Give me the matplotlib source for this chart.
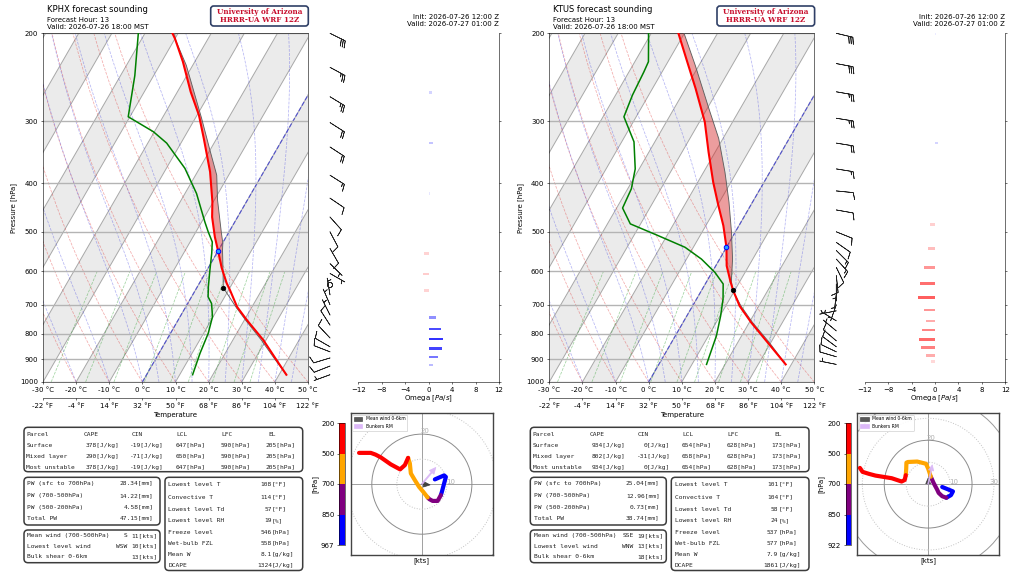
import numpy as np
import matplotlib
matplotlib.use("Agg")
import matplotlib.pyplot as plt
from matplotlib.transforms import Affine2D
from matplotlib.patches import FancyBboxPatch, Circle, Patch
from matplotlib.colors import ListedColormap, BoundaryNorm, to_rgba
from matplotlib.ticker import FixedLocator, NullLocator, FuncFormatter, NullFormatter
from matplotlib.colorbar import ColorbarBase

# ---------------- shared axis values ----------------
p_ticks = [200, 300, 400, 500, 600, 700, 800, 900, 1000]
t_ticks = [-30, -20, -10, 0, 10, 20, 30, 40, 50]
omega_ticks = [-12, -8, -4, 0, 4, 8, 12]
dry_t0 = [-30, -20, -10, 0, 10, 20, 30, 40, 50]
moist_t0 = [-30, -20, -10, 0, 5, 10, 15, 20, 25, 30, 35, 40, 45, 50]
mix_ratios = [0.0004, 0.001, 0.002, 0.004, 0.007, 0.01, 0.016, 0.024, 0.032]
hodo_tops = [850, 700, 500, 200]
hodo_colors = ['blue', 'purple', 'orange', 'red']
parcel_names = ["Surface", "Mixed layer", "Most unstable"]
misc_labels = ["Lowest level T", "Convective T", "Lowest level Td", "Lowest level RH",
               "Freeze level", "Wet-bulb FZL", "Mean W", "DCAPE"]
misc_units = ["[°F]", "[°F]", "[°F]", "[%]", "[hPa]", "[hPa]", "[g/kg]", "[J/kg]"]
pw_labels = ["PW (sfc to 700hPa)", "PW (700-500hPa)", "PW (500-200hPa)", "Total PW"]
wind_labels = ["Mean wind (700-500hPa)", "Lowest level wind", "Bulk shear 0-6km"]
init_text = "Init: 2026-07-26 12:00 Z"
valid_z_text = "Valid: 2026-07-27 01:00 Z"
fhour_text = "Forecast Hour: 13"
valid_local_text = "Valid: 2026-07-26 18:00 MST"

# ---------------- KPHX ----------------
phx_p_T = [200, 205, 228, 262, 292, 325, 379, 435, 467, 512, 546, 590, 634, 654, 707, 751, 824, 904, 967]
phx_T = [-51.7, -50.0, -43.6, -36.0, -29.4, -23.9, -16.2, -10.3, -7.7, -3.4, 0.0, 4.0, 8.25, 10.4, 15.5, 20.7, 29.2, 36.7, 42.2]
phx_p_Td = [200, 243, 294, 315, 332, 373, 419, 478, 500, 524, 552, 597, 644, 675, 696, 740, 799, 876, 967]
phx_Td = [-62.0, -55.7, -50.5, -40.3, -34.3, -24.4, -16.5, -9.0, -6.3, -3.3, -1.5, 0.9, 3.3, 5.0, 7.2, 9.8, 11.4, 12.4, 13.9]
phx_p_par = [200, 205, 232, 296, 340, 385, 432, 504, 527, 544, 587, 630, 647, 706, 751, 824, 900, 967]
phx_T_par = [-51.0, -50.0, -41.9, -28.1, -20.5, -13.6, -9.0, -2.0, 0.1, 1.2, 4.2, 6.95, 8.0, 15.0, 20.3, 28.6, 36.0, 42.2]
phx_lcl = (647, 8.0)
phx_frz = (546, 0.0)
phx_p_wind = [200, 234, 268, 302, 338, 385, 428, 467, 500, 540, 579, 606, 639, 669, 700, 734, 769, 816, 850, 870, 895, 929, 967]
phx_u = [-25.1, -23.0, -20.4, -18.5, -16.4, -12.4, -8.7, -6.8, -5.5, -4.8, -4.4, -2.8, -1.1, 0.5, 2.3, 3.0, 4.3, 6.3, 7.6, 8.0, 9.6, 8.9, 5.2]
phx_v = [12.5, 12.5, 12.5, 11.8, 10.7, 7.9, 5.9, 7.6, 10.5, 8.3, 4.3, 1.6, -1.1, -3.0, -5.3, -6.0, -6.7, -6.7, -4.4, -3.1, 2.9, 3.5, 1.9]
phx_p_omega = [263, 332, 419, 552, 607, 656, 743, 783, 820, 856, 891, 924]
phx_omega = [0.5, 0.7, 0.3, -0.8, -0.9, -0.8, 1.3, 2.1, 2.4, 2.2, 1.6, 0.8]
phx_mean_wind = (3.3, -0.3)
phx_bunkers = (5.6, 6.7)
phx_cape = [378, 290, 378]
phx_cin = [-19, -71, -19]
phx_lcl_p = [647, 650, 647]
phx_lfc_p = [590, 590, 590]
phx_el_p = [205, 205, 205]
phx_pw = [28.34, 14.22, 4.58, 47.15]
phx_wind_dir = ["S", "WSW", ""]
phx_wind_spd = [11, 10, 13]
phx_misc = [108, 114, 57, 19, 546, 558, 8.1, 1324]
phx_sfc = 967

# ---------------- KTUS ----------------
tus_p_T = [200, 228, 258, 301, 346, 398, 443, 486, 537, 585, 628, 656, 704, 760, 834, 922]
tus_T = [-51.8, -44.2, -37.0, -28.4, -22.0, -15.3, -9.7, -4.7, 0.0, 3.3, 7.1, 9.6, 14.2, 20.6, 29.1, 38.3]
tus_p_Td = [200, 228, 239, 266, 294, 330, 374, 410, 448, 482, 509, 537, 567, 603, 636, 682, 737, 808, 922]
tus_Td = [-60.8, -55.9, -55.5, -54.9, -53.7, -46.3, -41.2, -38.9, -38.2, -33.1, -22.6, -12.5, -5.5, 0.9, 5.4, 8.0, 10.2, 12.4, 14.4]
tus_p_par = [200, 232, 283, 325, 380, 436, 501, 567, 628, 654, 704, 760, 833, 922]
tus_T_par = [-50.1, -41.1, -29.5, -21.3, -13.5, -7.1, -1.1, 3.9, 7.4, 9.3, 14.6, 21.0, 29.5, 38.3]
tus_lcl = (654, 9.3)
tus_frz = (537, 0.0)
tus_p_wind = [200, 230, 262, 296, 332, 374, 414, 452, 500, 525, 545, 567, 589, 612, 636, 666, 700, 720, 754, 790, 827, 850, 870, 890, 922]
tus_u = [-31.1, -29.9, -27.0, -24.0, -20.3, -16.6, -12.1, -10.7, -10.2, -10.0, -9.9, -9.2, -5.0, -1.0, 0.0, 0.6, 1.2, 2.5, 4.1, 4.8, 6.4, 8.3, 10.4, 11.3, 6.4]
tus_v = [7.4, 5.6, 4.7, 3.9, 3.3, 2.7, 1.2, 1.9, 4.1, 7.0, 9.8, 10.1, 10.3, 9.3, 7.1, 5.3, 3.4, 0.5, -2.5, -4.0, -5.5, -6.2, -5.0, -3.3, -1.3]
tus_p_omega = [200, 332, 483, 540, 589, 634, 677, 717, 754, 787, 822, 853, 885, 910]
tus_omega = [0.2, 0.5, -0.85, -1.2, -1.9, -2.6, -2.9, -1.9, -1.5, -2.2, -2.7, -2.3, -1.5, -0.7]
tus_mean_wind = (0.0, 2.8)
tus_bunkers = (1.9, 8.8)
tus_cape = [934, 802, 934]
tus_cin = [0, -31, 0]
tus_lcl_p = [654, 658, 654]
tus_lfc_p = [628, 628, 628]
tus_el_p = [173, 173, 173]
tus_pw = [25.04, 12.96, 0.73, 38.74]
tus_wind_dir = ["SSE", "WNW", ""]
tus_wind_spd = [19, 13, 18]
tus_misc = [101, 104, 58, 24, 537, 577, 7.9, 1861]
tus_sfc = 922

# ---------------- figure ----------------
W, H, DPI = 1024, 573, 50
fig = plt.figure(figsize=(W / DPI, H / DPI), dpi=DPI)
fig.patch.set_facecolor('white')


def rect(x0, y0, x1, y1):
    return [x0 / W, 1 - y1 / H, (x1 - x0) / W, (y1 - y0) / H]


def c2f(c):
    return np.asarray(c) * 9.0 / 5.0 + 32.0


def f2c(f):
    return (np.asarray(f) - 32.0) * 5.0 / 9.0


def moist_adiabat(t0c, p):
    Rd, Cp, Lv, eps = 287.04, 1005.7, 2.501e6, 0.622

    def dTdp(T, pp):
        es = 6.112 * np.exp(17.67 * (T - 273.15) / (T - 29.65))
        rs = eps * es / (pp - es)
        return (Rd * T + Lv * rs) / (Cp + Lv * Lv * rs * eps / (Rd * T * T)) / pp

    T = t0c + 273.15
    out = [T]
    for i in range(len(p) - 1):
        p0, p1 = p[i], p[i + 1]
        h = p1 - p0
        k1 = dTdp(T, p0)
        k2 = dTdp(T + h / 2 * k1, p0 + h / 2)
        k3 = dTdp(T + h / 2 * k2, p0 + h / 2)
        k4 = dTdp(T + h * k3, p1)
        T = T + h / 6 * (k1 + 2 * k2 + 2 * k3 + k4)
        out.append(T)
    return np.array(out) - 273.15


ov = fig.add_axes([0, 0, 1, 1], zorder=20)
ov.set_xlim(0, W)
ov.set_ylim(H, 0)
ov.set_axis_off()


def box(x0, y0, x1, y1):
    ov.add_patch(FancyBboxPatch((x0, y0), x1 - x0, y1 - y0,
                                boxstyle="round,pad=0,rounding_size=4",
                                fc='white', ec='#3c3c3c', lw=2.2))


MONO = dict(family='DejaVu Sans Mono', fontsize=9, va='center', color='#222222')


def draw_station(off, station, p_T, T, p_Td, Td, p_par, T_par, lcl, frz, lfc, el, cin_rng,
                 p_w, u, v, p_om, om, sfc, mean_w, bunk,
                 cape, cin, lclp, lfcp, elp, pw, wdir, wspd, misc):
    # ---------------- skew-T ----------------
    ax = fig.add_axes(rect(43 + off, 33.3, 308 + off, 382))
    ax.set_yscale('log')
    ax.set_xlim(-30, 50)
    ax.set_ylim(1000, 200)
    ax.set_autoscale_on(False)
    shear = np.arctan(np.tan(np.radians(30)) * 348.7 / 265.0)
    sk = ax.transScale + ax.transLimits + Affine2D().skew(shear, 0) + ax.transAxes
    pb = np.array([1000.0, 200.0])
    for t0 in range(-100, 60, 20):
        ax.fill([t0, t0 + 10, t0 + 10, t0], [1000, 1000, 200, 200], transform=sk,
                color='#ebebeb', lw=0, zorder=0.3)
    for t0 in range(-100, 60, 10):
        ax.plot([t0, t0], pb, transform=sk, color='#a8a8a8', lw=1.4, zorder=0.6)
    p_bg = np.linspace(1000, 200, 81)
    for t0 in dry_t0:
        th = (t0 + 273.15) * (p_bg / 1000.0) ** 0.2857 - 273.15
        ax.plot(th, p_bg, transform=sk, color='#e03030', alpha=0.4, lw=1.1, ls='--', zorder=0.8)
    for t0 in moist_t0:
        ma = moist_adiabat(t0, p_bg)
        ax.plot(ma, p_bg, transform=sk, color='#3030e0', alpha=0.35, lw=1.1, ls='--', zorder=0.8)
    p_mix = np.linspace(1000, 600, 41)
    for w in mix_ratios:
        e = w * p_mix / (0.622 + w)
        lne = np.log(e / 6.112)
        td = 243.5 * lne / (17.67 - lne)
        ax.plot(td, p_mix, transform=sk, color='#30a030', alpha=0.45, lw=1.1, ls='--', zorder=0.8)
    ax.plot([0, 0], pb, transform=sk, color='#3535d5', alpha=0.75, lw=1.7, ls='--', zorder=0.9)

    pT = np.array(p_T); Ta = np.array(T)
    pp = np.array(p_par); Tp = np.array(T_par)
    me = (pT <= lfc) & (pT >= el)
    mp = (pp <= lfc) & (pp >= el)
    ax.fill(np.concatenate([Ta[me], Tp[mp][::-1]]), np.concatenate([pT[me], pp[mp][::-1]]),
            transform=sk, color='tab:red', alpha=0.45, lw=0, zorder=2)
    if cin_rng is not None:
        lo, hi = cin_rng
        me = (pT >= lo) & (pT <= hi)
        mp = (pp >= lo) & (pp <= hi)
        ax.fill(np.concatenate([Ta[me], Tp[mp][::-1]]), np.concatenate([pT[me], pp[mp][::-1]]),
                transform=sk, color='tab:blue', alpha=0.35, lw=0, zorder=2)
    ax.plot(Tp, pp, transform=sk, color='#606060', lw=1.3, zorder=3)
    ax.plot(Ta, pT, transform=sk, color='red', lw=3.0, zorder=4)
    ax.plot(Td, p_Td, transform=sk, color='green', lw=2.2, zorder=4)
    ax.plot([lcl[1]], [lcl[0]], 'o', transform=sk, color='black', ms=6.5, zorder=6)
    ax.plot([frz[1]], [frz[0]], 'o', transform=sk, mfc='#22a0ff', mec='blue', mew=1.4, ms=6.5, zorder=6)

    ax.xaxis.set_major_locator(FixedLocator(t_ticks))
    ax.xaxis.set_major_formatter(FuncFormatter(lambda x, pos: f"{x:.0f} °C"))
    ax.yaxis.set_major_locator(FixedLocator(p_ticks))
    ax.yaxis.set_minor_locator(NullLocator())
    ax.yaxis.set_minor_formatter(NullFormatter())
    ax.yaxis.set_major_formatter(FuncFormatter(lambda y, pos: f"{y:.0f}"))
    ax.grid(axis='y', color='#b4b4b4', lw=2.0)
    ax.tick_params(labelsize=10)
    ax.set_ylabel("Pressure [hPa]", fontsize=10)
    sec = ax.secondary_xaxis(-0.046, functions=(c2f, f2c))
    sec.xaxis.set_major_locator(FixedLocator(list(c2f(t_ticks))))
    sec.xaxis.set_major_formatter(FuncFormatter(lambda x, pos: f"{x:.0f} °F"))
    sec.tick_params(labelsize=10)
    sec.set_xlabel("Temperature", fontsize=10)

    # ---------------- barbs ----------------
    axb = fig.add_axes(rect(315 + off, 33.3, 345 + off, 382))
    axb.set_yscale('log')
    axb.set_ylim(1000, 200)
    axb.set_xlim(0, 1)
    axb.set_axis_off()
    axb.barbs(np.full(len(p_w), 0.5), p_w, u, v, length=7, lw=1.0, color='#222222', clip_on=False)

    # ---------------- omega ----------------
    axo = fig.add_axes(rect(358.3 + off, 33.3, 499 + off, 382))
    axo.set_yscale('log')
    axo.set_ylim(1000, 200)
    axo.set_xlim(-12, 12)
    oma = np.array(om)
    cols = [to_rgba('blue' if w > 0 else 'red', min(max(abs(w) / 3.0, 0.08), 1.0) * (1.0 if w > 0 else 0.65))
            for w in oma]
    axo.barh(p_om, oma, height=np.array(p_om) * 0.012, color=cols)
    for s in ['left', 'top']:
        axo.spines[s].set_visible(False)
    axo.yaxis.tick_right()
    axo.yaxis.set_major_locator(FixedLocator(p_ticks))
    axo.yaxis.set_minor_locator(NullLocator())
    axo.yaxis.set_major_formatter(NullFormatter())
    axo.yaxis.set_minor_formatter(NullFormatter())
    axo.xaxis.set_major_locator(FixedLocator(omega_ticks))
    axo.tick_params(labelsize=10)
    axo.set_xlabel("Omega [$Pa/s$]", fontsize=10, labelpad=1)

    # ---------------- header texts ----------------
    fig.text((46.7 + off) / W, 1 - 9.5 / H, f"{station} forecast sounding", fontsize=12, va='center')
    fig.text((46.7 + off) / W, 1 - 19.5 / H, fhour_text, fontsize=10, va='center')
    fig.text((46.7 + off) / W, 1 - 26.8 / H, valid_local_text, fontsize=10, va='center')
    fig.text((498.7 + off) / W, 1 - 16.7 / H, init_text, fontsize=10, va='center', ha='right')
    fig.text((498.7 + off) / W, 1 - 24.5 / H, valid_z_text, fontsize=10, va='center', ha='right')
    ov.add_patch(FancyBboxPatch((210.7 + off, 6), 97.6, 20, boxstyle="round,pad=0,rounding_size=3",
                                fc='white', ec='#2f3f66', lw=2.4))
    ov.text(259.5 + off, 11.9, "University of Arizona", family='DejaVu Serif', fontweight='bold',
            fontsize=10.5, color='#c8102e', ha='center', va='center')
    ov.text(259.5 + off, 20.4, "HRRR-UA WRF 12Z", family='DejaVu Serif', fontweight='bold',
            fontsize=10.5, color='#c8102e', ha='center', va='center')

    # ---------------- tables ----------------
    box(24 + off, 427.3, 302.7 + off, 471.7)
    rows = [434, 445.3, 456.3, 467.3]
    ov.text(26.5 + off, rows[0], "Parcel", ha='left', **MONO)
    for hx, ht in zip([83.3, 131.7, 176, 221, 268.3], ["CAPE", "CIN", "LCL", "LFC", "EL"]):
        ov.text(hx + off, rows[0], ht, ha='left', **MONO)
    for i in range(3):
        y = rows[i + 1]
        ov.text(26.5 + off, y, parcel_names[i], ha='left', **MONO)
        ov.text(119.3 + off, y, f"{cape[i]}[J/kg]", ha='right', **MONO)
        ov.text(164 + off, y, f"{cin[i]}[J/kg]", ha='right', **MONO)
        ov.text(205.7 + off, y, f"{lclp[i]}[hPa]", ha='right', **MONO)
        ov.text(250.7 + off, y, f"{lfcp[i]}[hPa]", ha='right', **MONO)
        ov.text(295 + off, y, f"{elp[i]}[hPa]", ha='right', **MONO)

    box(24 + off, 477.3, 160 + off, 525)
    for y, lab, val in zip([483, 495.5, 507, 518], pw_labels, pw):
        ov.text(27.3 + off, y, lab, ha='left', **MONO)
        ov.text(153.3 + off, y, f"{val:.2f}[mm]", ha='right', **MONO)

    box(24 + off, 530, 160 + off, 562.7)
    for y, lab, d, s in zip([535.5, 546.3, 556.8], wind_labels, wdir, wspd):
        ov.text(27.3 + off, y, lab, ha='left', **MONO)
        ov.text(127.3 + off, y, d, ha='right', **MONO)
        ov.text(157.3 + off, y, f"{s}[kts]", ha='right', **MONO)

    box(165 + off, 477.3, 302.7 + off, 570.5)
    for y, lab, val, un in zip([484.3, 497.3, 509.3, 520.7, 532.3, 543.3, 554.3, 565.7],
                               misc_labels, misc, misc_units):
        ov.text(168.3 + off, y, lab, ha='left', **MONO)
        ov.text(272 + off, y, f"{val}", ha='right', **MONO)
        ov.text(272 + off, y, un, ha='left', **MONO)

    # ---------------- hodograph ----------------
    axh = fig.add_axes(rect(351 + off, 413.3, 492.7 + off, 555))
    ua = np.array(u); va = np.array(v); pw_ = np.array(p_w)
    lim = np.max(np.hypot(ua, va)) * 1.01
    axh.set_xlim(-lim, lim)
    axh.set_ylim(-lim, lim)
    axh.set_aspect('equal', adjustable='box')
    axh.axhline(0, color='#999999', lw=1.3, zorder=1)
    axh.axvline(0, color='#999999', lw=1.3, zorder=1)
    for r, ls, c in [(10, ':', '#c4c4c4'), (20, '-', '#8c8c8c'), (30, ':', '#c4c4c4'), (40, '-', '#9a9a9a')]:
        axh.add_patch(Circle((0, 0), r, fill=False, ls=ls, ec=c, lw=1.4, zorder=1))
    axh.text(11.6, 0.9, "10", color='#b0b0b0', fontsize=10, ha='center', va='center', clip_on=True)
    axh.text(1.2, 21.2, "20", color='#b0b0b0', fontsize=10, ha='center', va='center', clip_on=True)
    axh.text(30.2, 0.9, "30", color='#b0b0b0', fontsize=10, ha='center', va='center', clip_on=True)
    bottoms = [sfc] + hodo_tops[:-1]
    for bot, top, col in zip(bottoms, hodo_tops, hodo_colors):
        m = (pw_ <= bot) & (pw_ >= top)
        axh.plot(ua[m], va[m], color=col, lw=6, solid_capstyle='round', solid_joinstyle='round', zorder=3)
    axh.arrow(0, 0, mean_w[0], mean_w[1], width=0.35, head_width=2.2, head_length=2.6,
              length_includes_head=True, color='#333333', alpha=0.9, zorder=4)
    axh.arrow(0, 0, bunk[0], bunk[1], width=0.45, head_width=2.4, head_length=2.6,
              length_includes_head=True, color='#d8b4f6', alpha=0.9, zorder=4)
    axh.set_xticks([])
    axh.set_yticks([])
    for s in axh.spines.values():
        s.set_linewidth(2.0)
        s.set_edgecolor('#444444')
    axh.set_xlabel("[kts]", fontsize=10, labelpad=3)
    axh.legend(handles=[Patch(fc='#3c3c3c', ec='#3c3c3c', alpha=0.85, label='Mean wind 0-6km'),
                        Patch(fc='#dcb8f8', ec='#dcb8f8', label='Bunkers RM')],
               loc='upper left', fontsize=6.5, handlelength=1.8, handleheight=0.8,
               borderaxespad=0.3, framealpha=0.9)

    cax = fig.add_axes(rect(339.3 + off, 423, 345 + off, 545))
    cmap = ListedColormap(hodo_colors)
    norm = BoundaryNorm([0, 1, 2, 3, 4], 4)
    cb = ColorbarBase(cax, cmap=cmap, norm=norm, ticks=[0, 1, 2, 3, 4], orientation='vertical')
    cb.set_ticklabels([str(sfc)] + [str(t) for t in hodo_tops])
    cax.yaxis.set_ticks_position('left')
    cax.yaxis.set_label_position('left')
    cax.tick_params(labelsize=10)
    cax.set_ylabel("[hPa]", fontsize=10)


draw_station(0, "KPHX", phx_p_T, phx_T, phx_p_Td, phx_Td, phx_p_par, phx_T_par, phx_lcl, phx_frz,
             590, 205, (587, 634), phx_p_wind, phx_u, phx_v, phx_p_omega, phx_omega, phx_sfc,
             phx_mean_wind, phx_bunkers, phx_cape, phx_cin, phx_lcl_p, phx_lfc_p, phx_el_p,
             phx_pw, phx_wind_dir, phx_wind_spd, phx_misc)
draw_station(506.3, "KTUS", tus_p_T, tus_T, tus_p_Td, tus_Td, tus_p_par, tus_T_par, tus_lcl, tus_frz,
             628, 173, None, tus_p_wind, tus_u, tus_v, tus_p_omega, tus_omega, tus_sfc,
             tus_mean_wind, tus_bunkers, tus_cape, tus_cin, tus_lcl_p, tus_lfc_p, tus_el_p,
             tus_pw, tus_wind_dir, tus_wind_spd, tus_misc)

fig.savefig("out.png", dpi=DPI, facecolor='white')
